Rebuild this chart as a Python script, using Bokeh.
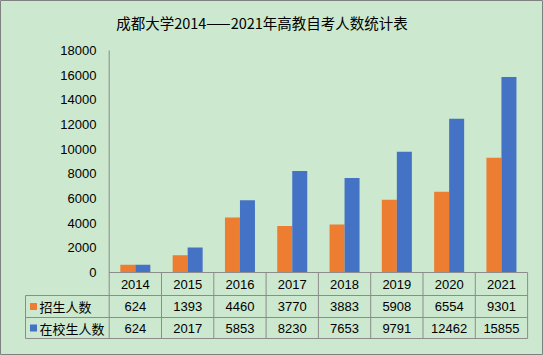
from bokeh.plotting import figure
from bokeh.models import Range1d
from bokeh.core.properties import value
from bokeh.embed import file_html
from bokeh.resources import INLINE

# ---- data ----
title_text = "成都大学2014——2021年高教自考人数统计表"
years = ["2014", "2015", "2016", "2017", "2018", "2019", "2020", "2021"]
series_names = ["招生人数", "在校生人数"]
enrolled = [624, 1393, 4460, 3770, 3883, 5908, 6554, 9301]
in_school = [624, 2017, 5853, 8230, 7653, 9791, 12462, 15855]
y_ticks = [0, 2000, 4000, 6000, 8000, 10000, 12000, 14000, 16000, 18000]

# ---- layout ----
W, H = 543, 355
X0, CW = 108.7, 52.3          # px of first column left edge, px per column
Y0, YMAX, YTOP = 272.0, 18000, 50.0
K = YMAX / (Y0 - YTOP)        # value units per px

def ux(px):
    return (px - X0) / CW

def uy(py):
    return (Y0 - py) * K

BG = "#CCE8CF"
GRID = "#8C8C8C"
ORANGE = "#ED7D31"
BLUE = "#4472C4"
TXT = "#000000"
NUM_FONT = value("Liberation Sans")
CJK_FONT = value("Noto Sans CJK SC")

p = figure(width=W, height=H, x_range=Range1d(ux(0), ux(W)), y_range=Range1d(uy(H), uy(0)),
           min_border=0, output_backend="svg", toolbar_location=None)
p.axis.visible = False
p.grid.visible = False
p.background_fill_color = BG
p.border_fill_color = BG
p.outline_line_color = "#808080"
p.outline_line_width = 1

n = len(years)
bw = 15 / CW
xs = [i + 0.5 for i in range(n)]
p.vbar(x=[x - bw / 2 for x in xs], top=enrolled, bottom=0, width=bw,
       fill_color=ORANGE, line_color=None)
p.vbar(x=[x + bw / 2 for x in xs], top=in_school, bottom=0, width=bw,
       fill_color=BLUE, line_color=None)

# y axis line and tick labels
p.segment(x0=[0], y0=[uy(YTOP)], x1=[0], y1=[uy(338)], line_color=GRID, line_width=1)
p.text(x=[ux(96)] * len(y_ticks), y=y_ticks, text=[str(t) for t in y_ticks],
       text_align="right", text_baseline="middle", text_font=NUM_FONT,
       text_font_size="13px", text_color=TXT)

# data table lines
row_tops = [272, 295, 317, 338]
seg_x0, seg_y0, seg_x1, seg_y1 = [], [], [], []
seg_x0.append(0); seg_y0.append(uy(272)); seg_x1.append(n); seg_y1.append(uy(272))
for r in row_tops[1:]:
    seg_x0.append(ux(25)); seg_y0.append(uy(r)); seg_x1.append(n); seg_y1.append(uy(r))
for i in range(1, n + 1):
    seg_x0.append(i); seg_y0.append(uy(272)); seg_x1.append(i); seg_y1.append(uy(338))
seg_x0.append(ux(25)); seg_y0.append(uy(295)); seg_x1.append(ux(25)); seg_y1.append(uy(338))
p.segment(x0=seg_x0, y0=seg_y0, x1=seg_x1, y1=seg_y1, line_color=GRID, line_width=1)

# table text
row_mid = [(row_tops[k] + row_tops[k + 1]) / 2 for k in range(3)]
p.text(x=xs, y=[uy(row_mid[0])] * n, text=years, text_align="center", text_baseline="middle",
       text_font=NUM_FONT, text_font_size="13px", text_color=TXT)
p.text(x=xs, y=[uy(row_mid[1])] * n, text=[str(v) for v in enrolled], text_align="center",
       text_baseline="middle", text_font=NUM_FONT, text_font_size="13px", text_color=TXT)
p.text(x=xs, y=[uy(row_mid[2])] * n, text=[str(v) for v in in_school], text_align="center",
       text_baseline="middle", text_font=NUM_FONT, text_font_size="13px", text_color=TXT)

# legend keys + series names
p.scatter(x=[ux(33), ux(33)], y=[uy(row_mid[1]), uy(row_mid[2])], marker="square", size=7,
          fill_color=[ORANGE, BLUE], line_color=None)
p.text(x=[ux(39), ux(39)], y=[uy(row_mid[1]), uy(row_mid[2])], text=series_names,
       text_align="left", text_baseline="middle", text_font=CJK_FONT,
       text_font_size="13px", text_color=TXT)

# title
p.text(x=[ux(261.5)], y=[uy(22)], text=[title_text], text_align="center", text_baseline="middle",
       text_font=CJK_FONT, text_font_size="14.5px", text_color=TXT)

open("out.html", "w").write(file_html(p, INLINE))
